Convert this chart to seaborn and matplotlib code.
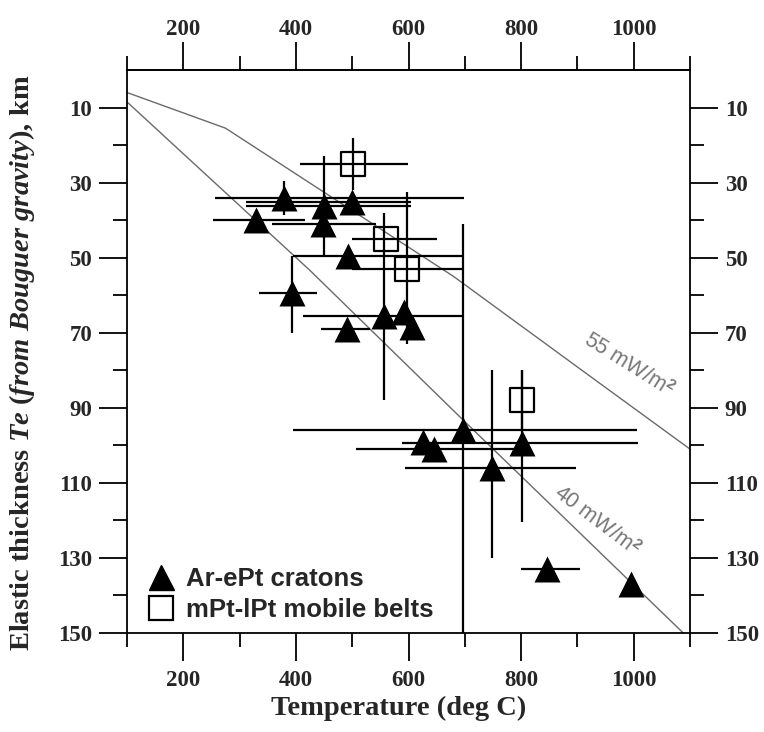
import numpy as np
import pandas as pd
import matplotlib
matplotlib.use("Agg")
import matplotlib.pyplot as plt
from matplotlib.lines import Line2D
from matplotlib.ticker import FixedLocator
import seaborn as sns

# ---------------- data ----------------
# Ar-ePt cratons (triangles): temperature (deg C), Te (km), error extents
craton_T = [330, 378, 450, 448, 500, 493, 393, 556, 592, 606, 491, 626, 646, 697, 749, 802, 846, 996]
craton_Te = [40, 34.2, 36.3, 41, 35.1, 49.5, 59.5, 65.5, 64.5, 68.5, 69, 99, 101, 96, 106, 99.5, 133, 137]
craton_T_lo = [77, 122, 138, 91, 188, 99, 58, 143, 0, 0, 46, 0, 140, 302, 155, 213, 46, 0]
craton_T_hi = [87, 320, 154, 95, 104, 205, 44, 142, 0, 0, 41, 0, 156, 308, 148, 205, 58, 0]
craton_Te_lo = [0, 4.5, 13.5, 0, 0, 0, 10, 27.5, 0, 0, 0, 0, 0, 55, 26, 19.5, 0, 0]
craton_Te_hi = [0, 4.5, 13.0, 0, 0, 0, 10.5, 22.5, 0, 0, 0, 0, 0, 54, 24, 21, 0, 0]

# mPt-lPt mobile belts (open squares)
belt_T = [501, 560, 598, 802]
belt_Te = [25, 45, 53, 88]
belt_T_lo = [93, 60, 98, 0]
belt_T_hi = [98, 91, 100, 0]
belt_Te_lo = [7, 0, 20.5, 8]
belt_Te_hi = [7, 0, 20, 8]

# model curves (surface heat flow)
curve55_T = [100, 275, 680, 908, 1100]
curve55_Te = [6, 15.5, 55, 80, 101]
curve40_T = [100, 425, 698, 1088]
curve40_Te = [8.5, 53.4, 93.4, 150]

x_major = [200, 400, 600, 800, 1000]
x_minor = [100, 300, 500, 700, 900, 1100]
y_major = [10, 30, 50, 70, 90, 110, 130, 150]
y_minor = [20, 40, 60, 80, 100, 120, 140]

legend_labels = ["Ar-ePt cratons", "mPt-lPt mobile belts"]

# ---------------- style ----------------
sns.set_theme(style="ticks")
plt.rcParams.update({
    "font.family": ["Liberation Serif", "DejaVu Serif"],
    "font.weight": "bold",
    "mathtext.fontset": "custom",
    "mathtext.rm": "Liberation Serif:bold",
    "mathtext.it": "Liberation Serif:italic:bold",
    "mathtext.bf": "Liberation Serif:bold",
    "mathtext.sf": "Liberation Sans",
    "axes.linewidth": 1.3,
})

fig = plt.figure(figsize=(7.64, 7.32), dpi=100)
ax = fig.add_axes([127 / 764, 99 / 732, 563 / 764, 563 / 732])
ax.set_facecolor("white")

# curves
curves = pd.concat([
    pd.DataFrame({"T": curve55_T, "Te": curve55_Te, "q": "55"}),
    pd.DataFrame({"T": curve40_T, "Te": curve40_Te, "q": "40"}),
])
sns.lineplot(data=curves, x="T", y="Te", units="q", estimator=None, sort=False,
             color="#6a6a6a", linewidth=1.0, ax=ax, legend=False)

# error bars
ax.errorbar(craton_T, craton_Te,
            xerr=[craton_T_lo, craton_T_hi], yerr=[craton_Te_lo, craton_Te_hi],
            fmt="none", ecolor="black", elinewidth=1.6, capsize=0, zorder=2)
ax.errorbar(belt_T, belt_Te,
            xerr=[belt_T_lo, belt_T_hi], yerr=[belt_Te_lo, belt_Te_hi],
            fmt="none", ecolor="black", elinewidth=1.6, capsize=0, zorder=2)

# markers
sns.scatterplot(x=craton_T, y=craton_Te, marker="^", s=350, color="black",
                edgecolor="black", linewidth=0, ax=ax, zorder=3, legend=False)
sns.scatterplot(x=belt_T, y=belt_Te, marker="s", s=300, facecolor="none",
                edgecolor="black", linewidth=1.6, ax=ax, zorder=3, legend=False)

# axes
ax.set_xlim(100, 1100)
ax.set_ylim(150, 0)
ax.xaxis.set_major_locator(FixedLocator(x_major))
ax.xaxis.set_minor_locator(FixedLocator(x_minor))
ax.yaxis.set_major_locator(FixedLocator(y_major))
ax.yaxis.set_minor_locator(FixedLocator(y_minor))
ax.tick_params(which="both", direction="out", top=False, right=True,
               bottom=True, left=True, labeltop=False, labelright=True,
               width=1.3, color="black")
ax.tick_params(which="major", length=20, pad=5, labelsize=16.5)
ax.tick_params(which="minor", length=10)
ax.tick_params(axis="x", which="major", pad=7)
for lbl in ax.get_xticklabels() + ax.get_yticklabels():
    lbl.set_fontweight("bold")
    lbl.set_fontfamily("Liberation Serif")
for s in ax.spines.values():
    s.set_color("black")
    s.set_linewidth(1.3)
ax.set_xlabel("")
ax.set_ylabel("")

# top axis (same scale)
secx = ax.secondary_xaxis("top")
secx.xaxis.set_major_locator(FixedLocator(x_major))
secx.xaxis.set_minor_locator(FixedLocator(x_minor))
secx.tick_params(which="both", direction="out", width=1.3, color="black")
secx.tick_params(which="major", length=20, pad=1.5, labelsize=16.5)
secx.tick_params(which="minor", length=10)
secx.spines["top"].set_linewidth(1.3)
for lbl in secx.get_xticklabels():
    lbl.set_fontweight("bold")
    lbl.set_fontfamily("Liberation Serif")

# curve labels
ax.text(991, 78.8, r"55 mW/m$^{\mathsf{2}}$", rotation=-32, rotation_mode="anchor",
        ha="center", va="center", color="#777777", fontsize=15.5,
        fontfamily="Liberation Sans", fontweight="normal")
ax.text(934, 120.4, r"40 mW/m$^{\mathsf{2}}$", rotation=-37, rotation_mode="anchor",
        ha="center", va="center", color="#777777", fontsize=15.5,
        fontfamily="Liberation Sans", fontweight="normal")

# legend
handles = [
    Line2D([], [], marker="^", color="black", ls="none", ms=18),
    Line2D([], [], marker="s", mfc="none", mec="black", mew=1.6, ls="none", ms=17),
]
ax.legend(handles, legend_labels, loc="lower left", bbox_to_anchor=(0.037, 0.02),
          frameon=False, prop={"family": "Liberation Sans", "weight": "bold", "size": 18.5},
          handlelength=1.0, handletextpad=0.5, labelspacing=0.25,
          borderpad=0, borderaxespad=0)

# axis titles
fig.text(399 / 764, 1 - 708 / 732, "Temperature (deg C)", ha="center", va="center",
         fontsize=20.5, fontweight="bold")
fig.text(22 / 764, 1 - 363 / 732,
         r"Elastic thickness $\mathit{Te\ (from\ Bouguer\ gravity)}$, km",
         rotation=90, ha="center", va="center", fontsize=20.5, fontweight="bold")

fig.savefig("out.png", dpi=100, facecolor="white")
